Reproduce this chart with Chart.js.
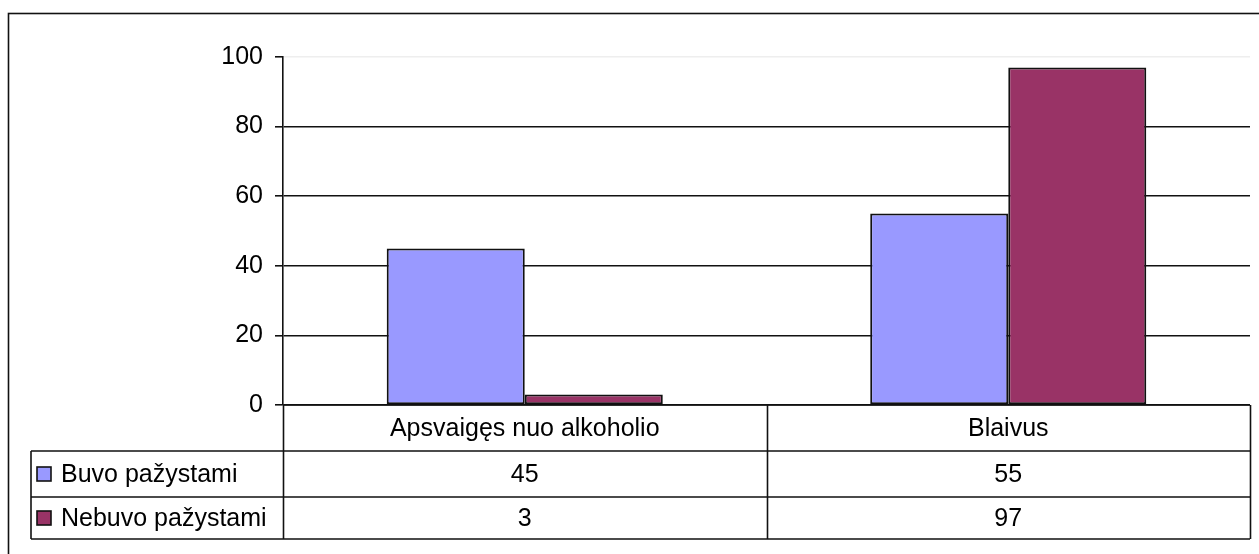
<!DOCTYPE html>
<html>
<head>
<meta charset="utf-8">
<script src="https://cdn.jsdelivr.net/npm/chart.js@4/dist/chart.umd.min.js"></script>
<style>
  html, body { margin: 0; padding: 0; background: #fff; }
  #wrap { width: 1259px; height: 554px; }
</style>
</head>
<body>
<div id="wrap"><canvas id="bar-chart" width="1259" height="554"></canvas></div>
<script>
// duomenys
const categories = ['Apsvaigęs nuo alkoholio', 'Blaivus'];
const seriesNames = ['Buvo pažystami', 'Nebuvo pažystami'];
const buvo = [45, 55];
const nebuvo = [3, 97];
const yTicks = [0, 20, 40, 60, 80, 100];
const colors = ['#9999FF', '#993366'];

const FONT = "'Liberation Sans', Arial, sans-serif";
const FONT_SIZE = 25;

// frame + data table under the plot
const tablePlugin = {
  id: 'dataTable',
  afterDraw(chart) {
    const ctx = chart.ctx;
    const area = chart.chartArea;
    const x = chart.scales.x;
    const catW = (area.right - area.left) / categories.length;
    const rowH = [46, 46, 42];
    const tableLeft = 31;
    const y0 = area.bottom;
    const y1 = y0 + rowH[0];
    const y2 = y1 + rowH[1];
    const y3 = y2 + rowH[2];

    ctx.save();
    ctx.strokeStyle = '#111';
    ctx.lineWidth = 1.6;

    // outer frame
    ctx.strokeRect(8.5, 13.5, 1300, 600);

    ctx.beginPath();
    // header row top (axis) and bottom lines
    ctx.moveTo(area.left, y0); ctx.lineTo(area.right, y0);
    ctx.moveTo(tableLeft, y1); ctx.lineTo(area.right, y1);
    ctx.moveTo(tableLeft, y2); ctx.lineTo(area.right, y2);
    ctx.moveTo(tableLeft, y3); ctx.lineTo(area.right, y3);
    // vertical lines
    ctx.moveTo(tableLeft, y1); ctx.lineTo(tableLeft, y3);
    for (let i = 0; i <= categories.length; i++) {
      const cx = Math.round(area.left + catW * i) + 0.5;
      ctx.moveTo(cx, y0); ctx.lineTo(cx, y3);
    }
    ctx.stroke();

    ctx.fillStyle = '#000';
    ctx.font = FONT_SIZE + 'px ' + FONT;
    ctx.textBaseline = 'middle';
    ctx.textAlign = 'center';
    const rows = [buvo, nebuvo];
    categories.forEach(function (c, i) {
      const cx = x.getPixelForValue(i);
      ctx.fillText(c, cx, (y0 + y1) / 2 + 1);
      ctx.fillText(String(rows[0][i]), cx, (y1 + y2) / 2 + 1);
      ctx.fillText(String(rows[1][i]), cx, (y2 + y3) / 2 + 1);
    });

    // legend keys in the first column
    const rowMid = [(y1 + y2) / 2, (y2 + y3) / 2];
    seriesNames.forEach(function (name, i) {
      ctx.fillStyle = colors[i];
      ctx.fillRect(37, rowMid[i] - 7, 14, 14);
      ctx.lineWidth = 1.6;
      ctx.strokeStyle = '#111';
      ctx.strokeRect(37, rowMid[i] - 7, 14, 14);
      ctx.fillStyle = '#000';
      ctx.textAlign = 'left';
      ctx.fillText(name, 61, rowMid[i] + 1);
    });
    ctx.restore();
  },
};

const barData = {
  labels: categories,
  datasets: [
    {
      label: seriesNames[0],
      data: buvo,
      backgroundColor: colors[0],
      borderColor: '#111',
      borderWidth: 2,
      borderSkipped: false,
    },
    {
      label: seriesNames[1],
      data: nebuvo,
      backgroundColor: colors[1],
      borderColor: '#111',
      borderWidth: 2,
      borderSkipped: false,
    },
  ],
};

const barConfig = {
  type: 'bar',
  data: barData,
  options: {
    responsive: false,
    animation: false,
    maintainAspectRatio: false,
    layout: {
      padding: { left: 0, top: 57, right: 9, bottom: 149 },
    },
    datasets: {
      bar: { categoryPercentage: 0.571, barPercentage: 1.0 },
    },
    scales: {
      x: {
        display: false,
        offset: true,
      },
      y: {
        min: 0,
        max: 100,
        afterBuildTicks: function (scale) {
          scale.ticks = yTicks.map(function (v) { return { value: v }; });
        },
        afterFit: function (scale) {
          scale.width = 283;
        },
        border: { display: true, color: '#111', width: 1.6 },
        grid: {
          color: function (c) {
            return c.tick && c.tick.value === 100 ? '#eeeeee' : '#111';
          },
          tickColor: '#111',
          tickLength: 8,
          lineWidth: 1.6,
          drawTicks: true,
        },
        ticks: {
          color: '#000',
          padding: 12,
          font: { family: FONT, size: FONT_SIZE },
        },
      },
    },
    plugins: {
      legend: { display: false },
      tooltip: { enabled: false },
    },
  },
  plugins: [tablePlugin],
};

let ctx = document.getElementById('bar-chart');
const chart = new Chart(ctx, barConfig);
</script>
</body>
</html>
